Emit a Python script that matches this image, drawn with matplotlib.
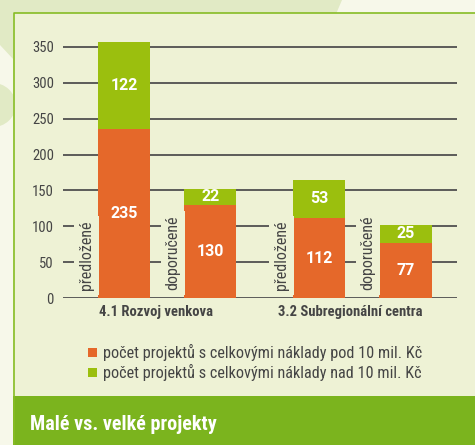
import matplotlib
matplotlib.use('Agg')
import matplotlib.pyplot as plt
from matplotlib.patches import Rectangle, Polygon, Circle
import numpy as np

# data
groups = ['4.1 Rozvoj venkova', '3.2 Subregionální centra']
bar_labels = ['předložené', 'doporučené', 'předložené', 'doporučené']
pod_10 = [235, 130, 112, 77]   # pod 10 mil. Kč
nad_10 = [122, 22, 53, 25]     # nad 10 mil. Kč
yticks = [0, 50, 100, 150, 200, 250, 300, 350]
legend_labels = ['počet projektů s celkovými náklady pod 10 mil. Kč',
                 'počet projektů s celkovými náklady nad 10 mil. Kč']
title = 'Malé vs. velké projekty'

orange = '#E5682A'
green = '#9BBF0E'
panel = '#EEF2D5'
page = '#F7F8EA'
deco = '#E1EAC5'
txt = '#454545'

plt.rcParams['font.family'] = ['Roboto Condensed', 'DejaVu Sans']

W, H = 475, 445
fig = plt.figure(figsize=(W / 100, H / 100), dpi=100)
fig.patch.set_facecolor(page)

def fx(x):
    return x / W

def fy(y):
    return 1 - y / H

def fig_patch(p):
    p.set_zorder(-5)
    fig.patches.append(p)

# decorative background shapes
fig_patch(Polygon([(fx(0), fy(0)), (fx(342), fy(0)), (fx(336), fy(14)), (fx(0), fy(14))],
                  closed=True, transform=fig.transFigure, facecolor=deco, edgecolor='none'))
fig_patch(Polygon([(fx(0), fy(0)), (fx(14), fy(0)), (fx(14), fy(60)), (fx(0), fy(45))],
                  closed=True, transform=fig.transFigure, facecolor=deco, edgecolor='none'))
fig_patch(Circle((fx(-8), fy(105)), 0.05, transform=fig.transFigure, facecolor=deco, edgecolor='none'))
# panel
fig_patch(Rectangle((fx(13), 0), 1 - fx(13), fy(12.5), transform=fig.transFigure,
                    facecolor=panel, edgecolor='none'))
border = plt.Line2D([fx(13.5), fx(13.5), 1], [0, fy(12.8), fy(12.8)], transform=fig.transFigure,
                    color='#86BC25', linewidth=1.2, zorder=-4)
fig.lines.append(border)
# header bar
fig_patch(Rectangle((fx(13), 0), 1 - fx(13), fy(396), transform=fig.transFigure,
                    facecolor='#7BB41E', edgecolor='none'))
fig.text(fx(30), fy(425), title, color='white', fontsize=14.5, fontweight='bold', va='center', ha='left')

# axes
ax = fig.add_axes([fx(63), fy(298.3), fx(457) - fx(63), fy(39.5) - fy(298.3)])
ax.set_facecolor('none')
pos = np.array([0, 1.66, 3.75, 5.41])
width = 1.0
ax.bar(pos, pod_10, width, color=orange, zorder=2)
ax.bar(pos, nad_10, width, bottom=pod_10, color=green, zorder=2)

ax.set_xlim(-1.173, 6.40)
ax.set_ylim(0, 360)
ax.set_yticks(yticks)
ax.set_xticks([])
ax.tick_params(axis='y', length=0, pad=6.5, labelsize=10.5, labelcolor=txt)
for s in ax.spines.values():
    s.set_visible(False)
ax.grid(axis='y', color='#505050', linewidth=1.3)
ax.set_axisbelow(True)

for i in range(len(pos)):
    ax.text(pos[i], pod_10[i] / 2, str(pod_10[i]), color='white', fontsize=11.5, fontweight='bold',
            family=['Roboto', 'DejaVu Sans'], ha='center', va='center', zorder=3)
    ax.text(pos[i], pod_10[i] + nad_10[i] / 2, str(nad_10[i]), color='white', fontsize=11.5,
            fontweight='bold', family=['Roboto', 'DejaVu Sans'], ha='center', va='center', zorder=3)
    ax.text(pos[i] - width / 2 - 0.22, 11, bar_labels[i], rotation=90, ha='center', va='bottom',
            fontsize=11.5, color=txt, zorder=3,
            bbox=dict(boxstyle='square,pad=0.3', facecolor=panel, edgecolor='none'))

for g in range(2):
    left = pos[2 * g] - width / 2 - 0.45
    right = pos[2 * g + 1] + width / 2
    ax.text((left + right) / 2, -19, groups[g], ha='center', va='center', fontsize=10.5,
            fontweight='bold', color=txt, clip_on=False)

# legend
for k, (lab, col) in enumerate(zip(legend_labels, [orange, green])):
    yc = 352.5 + k * 20
    fig_patch(Rectangle((fx(88), fy(yc + 4.5)), fx(9), 9 / H, transform=fig.transFigure,
                        facecolor=col, edgecolor='none'))
    fig.text(fx(103), fy(yc), lab, fontsize=11.7, color=txt, va='center', ha='left')

fig.savefig('out.png', dpi=100, facecolor=fig.get_facecolor())
